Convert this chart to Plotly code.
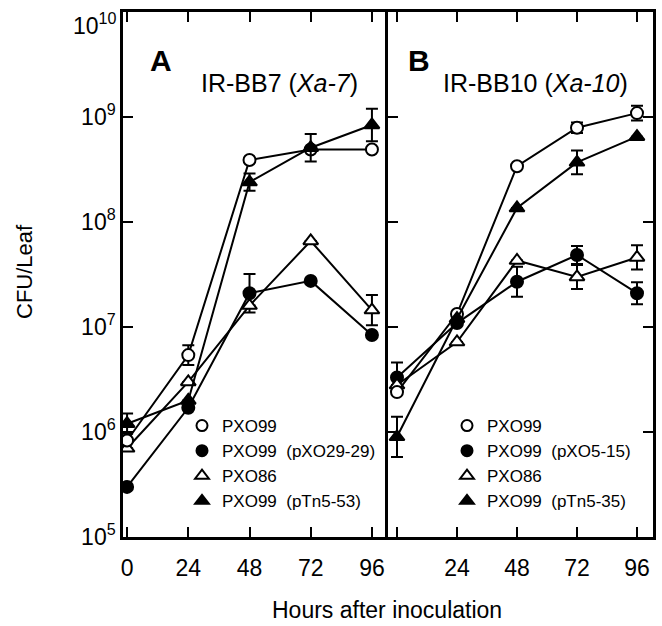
import plotly.graph_objects as go

# ---------------- data ----------------
hours = [0, 24, 48, 72, 96]
ytick_vals = [1e5, 1e6, 1e7, 1e8, 1e9, 1e10]
ytick_text = ["10<sup>5</sup>", "10<sup>6</sup>", "10<sup>7</sup>", "10<sup>8</sup>",
              "10<sup>9</sup>", ""]
top_label = "10<sup>10</sup>"
xtick_text_a = ["0", "24", "48", "72", "96"]
xtick_text_b = ["", "24", "48", "72", "96"]

# Panel A: IR-BB7 (Xa-7)
a_pxo99 = [8.3e5, 5.4e6, 3.9e8, 4.9e8, 4.9e8]
a_pxo99_err = [None, 1.3e6, None, None, None]
a_pxo99_pxo29 = [3.0e5, 1.7e6, 2.1e7, 2.75e7, 8.4e6]
a_pxo99_pxo29_err = [None, None, 1.1e7, None, None]
a_pxo86 = [7.0e5, 3.0e6, 1.6e7, 6.6e7, 1.45e7]
a_pxo86_err = [None, None, None, None, 5.7e6]
a_pxo99_ptn53 = [1.2e6, 2.0e6, 2.4e8, 5.1e8, 8.4e8]
a_pxo99_ptn53_err = [3.0e5, None, 5.0e7, 1.8e8, 3.6e8]

# Panel B: IR-BB10 (Xa-10)
b_pxo99 = [2.4e6, 1.33e7, 3.4e8, 7.9e8, 1.09e9]
b_pxo99_err = [None, None, None, 9.5e7, 1.9e8]
b_pxo99_pxo5 = [3.3e6, 1.09e7, 2.7e7, 4.85e7, 2.1e7]
b_pxo99_pxo5_err = [1.3e6, None, 1.05e7, 1.05e7, 5.7e6]
b_pxo86 = [2.8e6, 7.2e6, 4.3e7, 3.0e7, 4.6e7]
b_pxo86_err = [None, None, None, 9.0e6, 1.4e7]
b_pxo99_ptn35 = [9.0e5, 1.2e7, 1.36e8, 3.7e8, 6.5e8]
b_pxo99_ptn35_err = [5.0e5, None, None, 1.1e8, None]

legend_a = ["PXO99", "PXO99\u00a0 (pXO29-29)", "PXO86", "PXO99\u00a0 (pTn5-53)"]
legend_b = ["PXO99", "PXO99\u00a0 (pXO5-15)", "PXO86", "PXO99\u00a0 (pTn5-35)"]

# ---------------- figure ----------------
W, H = 662, 626
FONT = "Liberation Sans, Arial, Helvetica, sans-serif"

def px_x(p):
    return p / W

def px_y(p):
    return 1 - p / H

styles = [
    dict(symbol="circle", color="white", size=12),        # PXO99
    dict(symbol="circle", color="black", size=12),        # PXO99 (plasmid)
    dict(symbol="triangle-up", color="white", size=13),   # PXO86
    dict(symbol="triangle-up", color="black", size=13),   # PXO99 (pTn5)
]

def lower_err(vals, errs):
    out = []
    for v, e in zip(vals, errs):
        out.append(None if e is None else e * v / (v + e))
    return out

fig = go.Figure()

panels = [
    ("x", "y", "legend", legend_a,
     [(a_pxo99, a_pxo99_err), (a_pxo99_pxo29, a_pxo99_pxo29_err),
      (a_pxo86, a_pxo86_err), (a_pxo99_ptn53, a_pxo99_ptn53_err)]),
    ("x2", "y2", "legend2", legend_b,
     [(b_pxo99, b_pxo99_err), (b_pxo99_pxo5, b_pxo99_pxo5_err),
      (b_pxo86, b_pxo86_err), (b_pxo99_ptn35, b_pxo99_ptn35_err)]),
]

draw_order = [1, 2, 0, 3]
for xa, ya, leg, names, series in panels:
    for i in draw_order:
        vals, errs = series[i]
        st = styles[i]
        fig.add_trace(go.Scatter(
            x=hours, y=vals, xaxis=xa, yaxis=ya, mode="lines+markers",
            line=dict(color="black", width=2),
            marker=dict(symbol=st["symbol"], size=st["size"], color=st["color"],
                        line=dict(color="black", width=2)),
            error_y=dict(type="data", array=errs, arrayminus=lower_err(vals, errs),
                         color="black", thickness=2, width=6, symmetric=False),
            showlegend=False, hoverinfo="skip",
        ))
    for i in range(4):
        st = styles[i]
        fig.add_trace(go.Scatter(
            x=[None], y=[None], xaxis=xa, yaxis=ya, mode="markers", name=names[i],
            marker=dict(symbol=st["symbol"], size=st["size"] - 1, color=st["color"],
                        line=dict(color="black", width=2)),
            legend=leg, showlegend=True,
        ))

axis_common = dict(
    showgrid=False, zeroline=False, ticks="inside", ticklen=10, tickwidth=2,
    tickcolor="black", showline=True, linecolor="black", linewidth=2.5,
    tickfont=dict(family=FONT, size=23, color="black"), automargin=False,
)

fig.update_layout(
    template="none",
    width=W, height=H, margin=dict(l=0, r=0, t=0, b=0, pad=0, autoexpand=False),
    paper_bgcolor="white", plot_bgcolor="white",
    font=dict(family=FONT, color="black"),
    xaxis=dict(axis_common, domain=[px_x(123), px_x(388)], range=[-1.6, 102.3],
               tickvals=hours, ticktext=xtick_text_a, mirror="ticks",
               ticklabelstandoff=9, anchor="y"),
    yaxis=dict(axis_common, domain=[px_y(537), px_y(12)], type="log", range=[5, 10.0004],
               tickvals=ytick_vals, ticktext=ytick_text, mirror=False, anchor="x"),
    xaxis2=dict(axis_common, domain=[px_x(388), px_x(653)], range=[-3.6, 102.4],
                tickvals=hours, ticktext=xtick_text_b, mirror="ticks",
                ticklabelstandoff=9, anchor="y2"),
    yaxis2=dict(axis_common, domain=[px_y(537), px_y(12)], type="log", range=[5, 10.0004],
                tickvals=ytick_vals, showticklabels=False, mirror="ticks", anchor="x2"),
    legend=dict(x=px_x(182), y=px_y(408), xanchor="left", yanchor="top",
                bgcolor="rgba(0,0,0,0)", font=dict(family=FONT, size=17, color="black"),
                itemwidth=30, tracegroupgap=0, borderwidth=0),
    legend2=dict(x=px_x(447), y=px_y(408), xanchor="left", yanchor="top",
                 bgcolor="rgba(0,0,0,0)", font=dict(family=FONT, size=17, color="black"),
                 itemwidth=30, tracegroupgap=0, borderwidth=0),
)

annots = [
    dict(text="<b>A</b>", x=px_x(161), y=px_y(60), size=30, anchor="center"),
    dict(text="IR-BB7 (<i>Xa-7</i>)", x=px_x(279), y=px_y(83), size=25, anchor="center"),
    dict(text="<b>B</b>", x=px_x(419), y=px_y(60), size=30, anchor="center"),
    dict(text="IR-BB10 (<i>Xa-10</i>)", x=px_x(535), y=px_y(83), size=25, anchor="center"),
    dict(text="Hours after inoculation", x=px_x(387), y=px_y(610), size=23, anchor="center"),
    dict(text=top_label, x=px_x(119), y=px_y(24), size=23, anchor="right"),
]
for a in annots:
    fig.add_annotation(text=a["text"], x=a["x"], y=a["y"], xref="paper", yref="paper",
                       showarrow=False, xanchor=a["anchor"], yanchor="middle",
                       font=dict(family=FONT, size=a["size"], color="black"))
fig.add_annotation(text="CFU/Leaf", x=px_x(24), y=px_y(272), xref="paper", yref="paper",
                   showarrow=False, textangle=-90, xanchor="center", yanchor="middle",
                   font=dict(family=FONT, size=22, color="black"))

fig.write_html("out.html", config={"displayModeBar": False},
               post_script="document.body.style.margin='0';")
